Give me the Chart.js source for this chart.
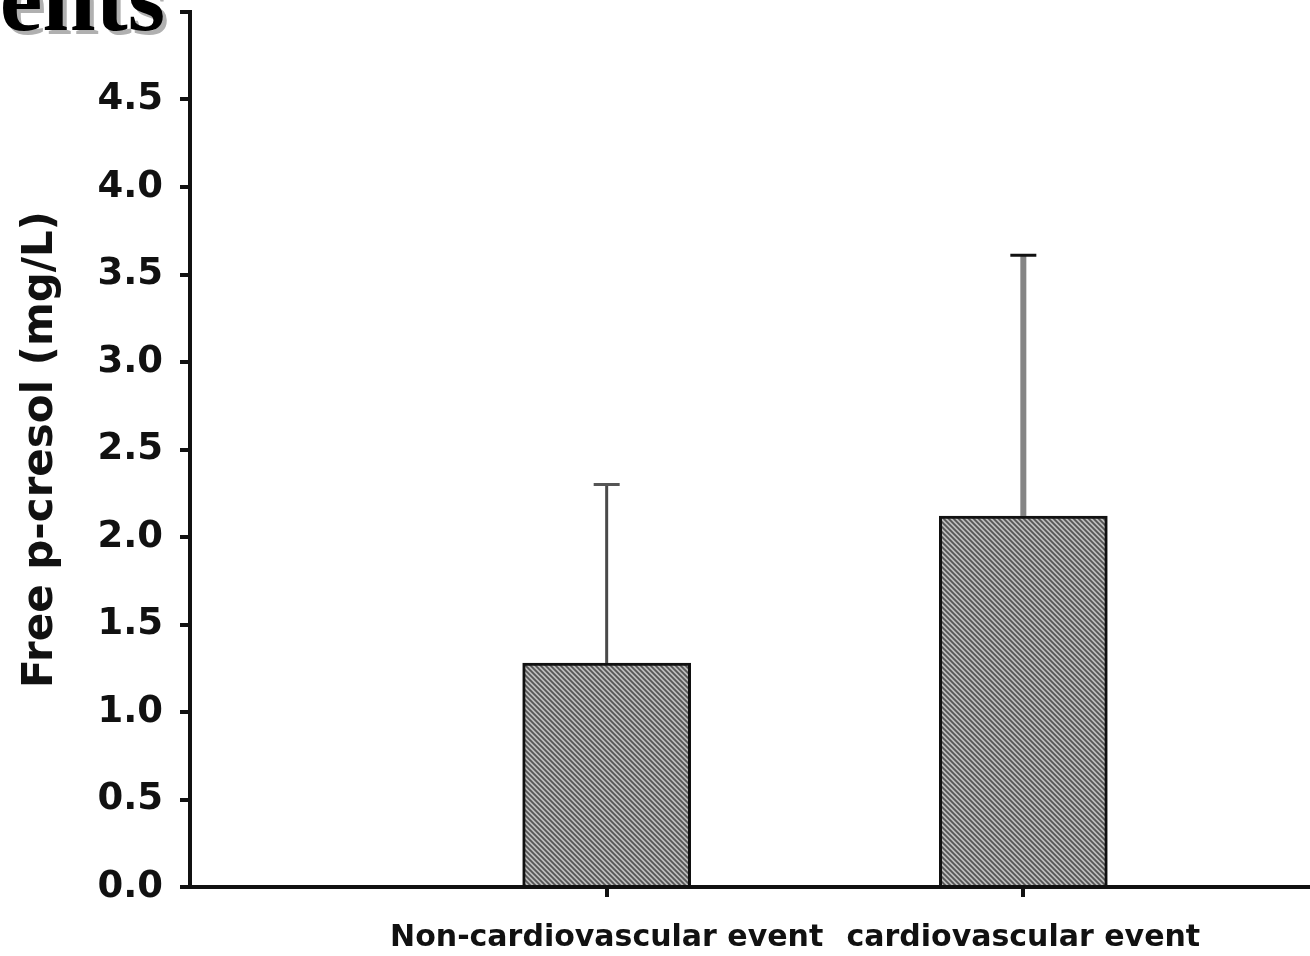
<!DOCTYPE html>
<html>
<head>
<meta charset="utf-8">
<script src="https://cdn.jsdelivr.net/npm/chart.js@4.4.1/dist/chart.umd.min.js"></script>
<style>
  html, body { margin: 0; padding: 0; background: #fff; overflow: hidden; }
  #wrap { position: relative; width: 1440px; height: 956px; }
</style>
</head>
<body>
<div id="wrap"><canvas id="myChart" width="1440" height="956"></canvas></div>
<script>
// groups on the x axis (blank slots at both ends keep the bars at 1/3 and 2/3)
const groups = ["", "Non-cardiovascular event", "cardiovascular event", ""];
const means = [null, 1.28, 2.12, null];
const sds = [null, 1.02, 1.49, null];
const yTicks = [0, 0.5, 1.0, 1.5, 2.0, 2.5, 3.0, 3.5, 4.0, 4.5, 5.0];

const sans = "'DejaVu Sans', Verdana, sans-serif";

// diagonal hatch fill for the bars
function hatch() {
    const c = document.createElement("canvas");
    const s = 5;
    c.width = s;
    c.height = s;
    const g = c.getContext("2d");
    g.fillStyle = "#bdbdbd";
    g.fillRect(0, 0, s, s);
    g.strokeStyle = "#555";
    g.lineWidth = 1.8;
    g.beginPath();
    for (let k = -1; k <= 1; k++) {
        g.moveTo(k * s - 1, -1);
        g.lineTo(k * s + s + 1, s + 1);
    }
    g.stroke();
    return g.createPattern(c, "repeat");
}

// mean + SD whiskers on top of each bar
const errorBars = {
    id: "errorBars",
    afterDatasetsDraw(chart) {
        const ctx = chart.ctx;
        const y = chart.scales.y;
        const meta = chart.getDatasetMeta(0);
        ctx.save();
        meta.data.forEach((bar, i) => {
            if (means[i] == null) return;
            const top = y.getPixelForValue(means[i] + sds[i]);
            ctx.strokeStyle = i === 1 ? "#4a4a4a" : "#858585";
            ctx.lineWidth = i === 1 ? 3 : 6;
            ctx.beginPath();
            ctx.moveTo(bar.x, bar.y);
            ctx.lineTo(bar.x, top);
            ctx.stroke();
            ctx.strokeStyle = i === 1 ? "#555" : "#111";
            ctx.lineWidth = 3;
            ctx.beginPath();
            ctx.moveTo(bar.x - 13, top);
            ctx.lineTo(bar.x + 13, top);
            ctx.stroke();
        });
        ctx.restore();
    },
};

// leftover heading text at the top-left corner
const heading = {
    id: "heading",
    afterDraw(chart) {
        const ctx = chart.ctx;
        ctx.save();
        ctx.font = "bold 96px 'Liberation Serif', 'Times New Roman', serif";
        ctx.textAlign = "right";
        ctx.textBaseline = "alphabetic";
        ctx.fillStyle = "#b0b0b0";
        ctx.fillText("ents", 169, 34);
        ctx.fillStyle = "#000";
        ctx.fillText("ents", 165, 30);
        ctx.restore();
    },
};

const ctx = document.getElementById("myChart").getContext("2d");

const myChart = new Chart(ctx, {
    type: "bar",
    data: {
        labels: groups,
        datasets: [
            {
                data: means,
                backgroundColor: hatch(),
                borderColor: "#111",
                borderWidth: 3,
                barThickness: 168,
            },
        ],
    },
    options: {
        responsive: false,
        animation: false,
        layout: {
            padding: { top: 12, right: 0, left: 0, bottom: 0 },
        },
        plugins: {
            legend: { display: false },
            tooltip: { enabled: false },
        },
        scales: {
            x: {
                offset: false,
                afterFit(scale) {
                    scale.height = 69;
                    scale.paddingLeft = 0;
                    scale.paddingRight = 0;
                },
                border: { color: "#111", width: 4 },
                grid: {
                    offset: false,
                    drawOnChartArea: false,
                    tickLength: 10,
                    lineWidth: 4,
                    tickColor: function (context) {
                        const i = context.index;
                        return i === 1 || i === 2 ? "#111" : "rgba(0,0,0,0)";
                    },
                },
                ticks: {
                    autoSkip: false,
                    maxRotation: 0,
                    padding: 23,
                    color: "#111",
                    font: { family: sans, size: 30, weight: "bold" },
                },
            },
            y: {
                min: 0,
                max: 5,
                afterFit(scale) {
                    scale.width = 190;
                    scale.paddingTop = 0;
                    scale.paddingBottom = 0;
                },
                afterBuildTicks(scale) {
                    scale.ticks = yTicks.map((v) => ({ value: v }));
                },
                border: { color: "#111", width: 4 },
                grid: {
                    drawOnChartArea: false,
                    tickLength: 10,
                    lineWidth: 4,
                    tickColor: "#111",
                },
                ticks: {
                    padding: 17,
                    color: "#111",
                    font: { family: sans, size: 37, weight: "bold" },
                    callback: function (value) {
                        return value >= 5 ? "" : Number(value).toFixed(1);
                    },
                },
                title: {
                    display: true,
                    text: "Free p-cresol (mg/L)",
                    color: "#111",
                    padding: { top: 16, bottom: 0 },
                    font: { family: sans, size: 42, weight: "bold" },
                },
            },
        },
    },
    plugins: [errorBars, heading],
});
</script>
</body>
</html>
